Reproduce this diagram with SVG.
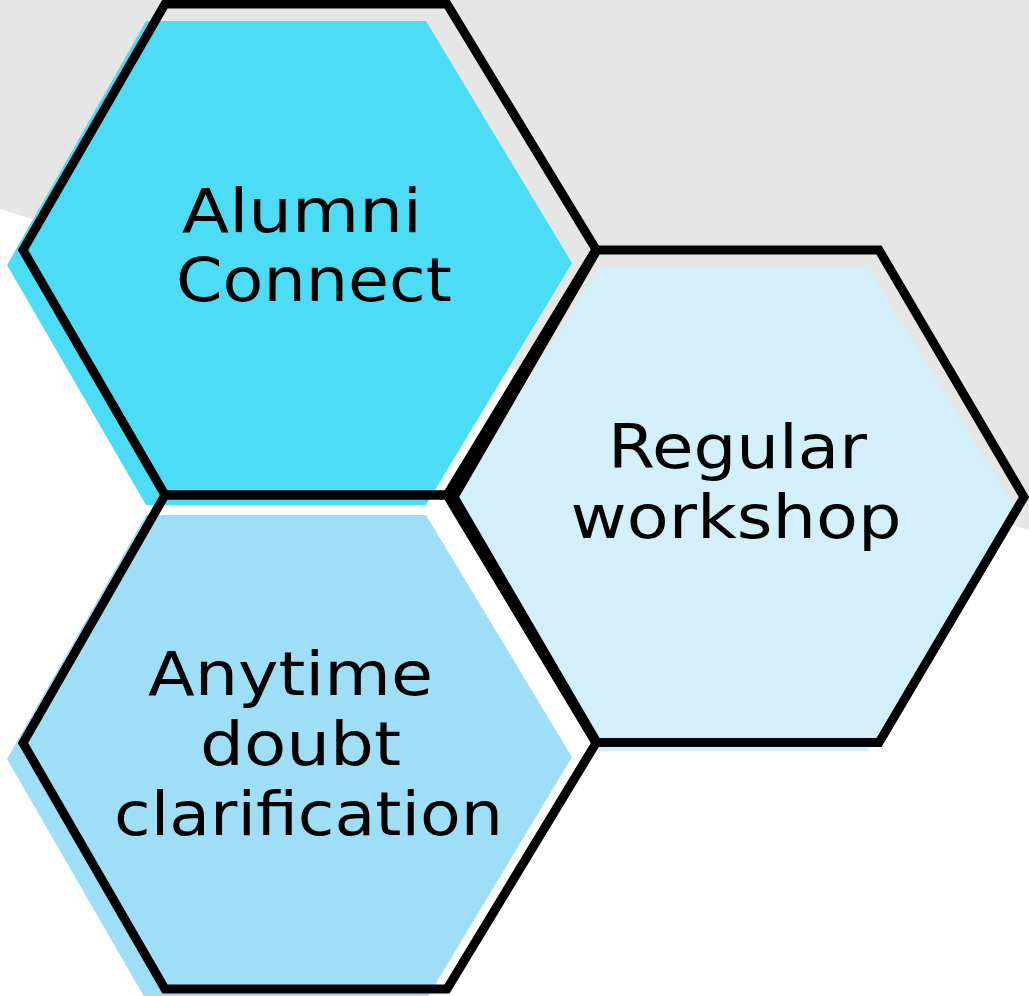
<svg xmlns="http://www.w3.org/2000/svg" width="1029" height="996" viewBox="0 0 1029 996">
  <style>
    .outline { fill: none; stroke: #000000; stroke-width: 9; stroke-linejoin: miter; stroke-miterlimit: 10; }
    .label { font-family: "DejaVu Sans", "Liberation Sans", sans-serif; font-size: 60px; fill: #000000; text-anchor: middle; }
  </style>
  <rect x="0" y="0" width="1029" height="996" fill="#ffffff"/>
  <polygon id="background-band" points="0,0 1029,0 1029,530 0,209" fill="#e6e6e6"/>

  <g id="node-alumni-connect">
    <polygon points="146,21 426,21 572,263 426,505 146,505 7,265" fill="#4ddcf5"/>
  </g>
  <g id="node-anytime-doubt">
    <polygon points="146,515 426,515 572,757 426,1000 146,1000 7,759" fill="#9edff7"/>
  </g>
  <g id="node-regular-workshop">
    <polygon points="599,268 868,268 1015,508 868,751 597,751 448,507" fill="#d3effa"/>
  </g>

  <g id="outlines">
    <polygon class="outline" points="165,4 447,4 596,249.5 447,495 165,495 23,250"/>
    <polygon class="outline" points="165,495 447,495 596,743 447,989 165,989 23,743"/>
    <polygon class="outline" points="597,250 879,250 1024,497 879,742.5 597,742.5 454,497"/>
  </g>

  <g id="labels">
    <text class="label" x="302" y="232" textLength="240" lengthAdjust="spacingAndGlyphs">Alumni</text>
    <text class="label" x="314" y="301" textLength="276" lengthAdjust="spacingAndGlyphs">Connect</text>
    <text class="label" x="737.5" y="468" textLength="259" lengthAdjust="spacingAndGlyphs">Regular</text>
    <text class="label" x="736" y="538" textLength="331" lengthAdjust="spacingAndGlyphs">workshop</text>
    <text class="label" x="290.5" y="695" textLength="285" lengthAdjust="spacingAndGlyphs">Anytime</text>
    <text class="label" x="300.5" y="765" textLength="201" lengthAdjust="spacingAndGlyphs">doubt</text>
    <text class="label" x="308.5" y="835" textLength="389" lengthAdjust="spacingAndGlyphs">clarification</text>
  </g>
</svg>
